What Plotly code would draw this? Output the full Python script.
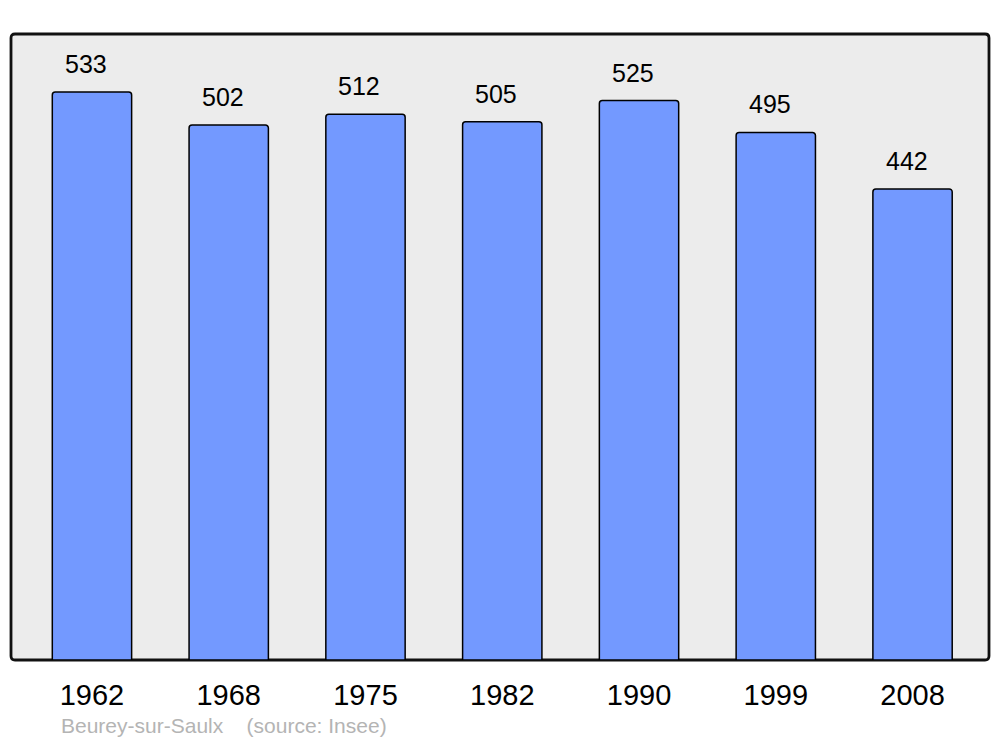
import plotly.graph_objects as go

years = ["1962", "1968", "1975", "1982", "1990", "1999", "2008"]
population = [533, 502, 512, 505, 525, 495, 442]
commune = "Beurey-sur-Saulx"
source = "(source: Insee)"

font = "Liberation Sans, Arial, sans-serif"

fig = go.Figure(
    go.Bar(
        x=years,
        y=population,
        width=0.58,
        marker=dict(color="#7399ff", line=dict(color="black", width=1.5)),
        hoverinfo="x+y",
    )
)

# value labels above the bars
for i, val in enumerate(population):
    fig.add_annotation(
        x=i, y=val, xref="x", yref="y", text=str(val), showarrow=False,
        yshift=28, xshift=-6,
        font=dict(family=font, size=25, color="black"),
    )

fig.add_annotation(
    xref="paper", yref="paper", x=0.049, y=-0.104, xanchor="left", yanchor="middle",
    text=commune + "&nbsp;&nbsp;&nbsp;&nbsp;" + source, showarrow=False,
    font=dict(family=font, size=21, color="#b4b4b4"),
)

# rounded frame around the plot area (plot area is 978 x 626 px)
rx, ry = 4 / 978, 4 / 626
frame = (
    f"M {rx},0 L {1 - rx},0 Q 1,0 1,{ry} L 1,{1 - ry} Q 1,1 {1 - rx},1 "
    f"L {rx},1 Q 0,1 0,{1 - ry} L 0,{ry} Q 0,0 {rx},0 Z"
)
fig.add_shape(
    type="path", path=frame, xref="paper", yref="paper",
    line=dict(color="#111111", width=2.8), fillcolor="#ececec", layer="below",
)

# page body adds 8px margin, so the figure is sized to fit the window
fig.update_layout(
    width=984, height=731,
    margin=dict(l=3, r=3, t=26, b=79),
    paper_bgcolor="white",
    plot_bgcolor="white",
    barcornerradius=3,
    showlegend=False,
)
fig.update_xaxes(
    type="category",
    range=[-0.592, 6.559], showgrid=False, zeroline=False, showline=False,
    ticks="outside", ticklen=9, tickcolor="rgba(0,0,0,0)",
    tickfont=dict(family=font, size=29, color="black"),
)
fig.update_yaxes(range=[0, 587.4], showgrid=False, zeroline=False, showticklabels=False)

fig.write_html("out.html")
